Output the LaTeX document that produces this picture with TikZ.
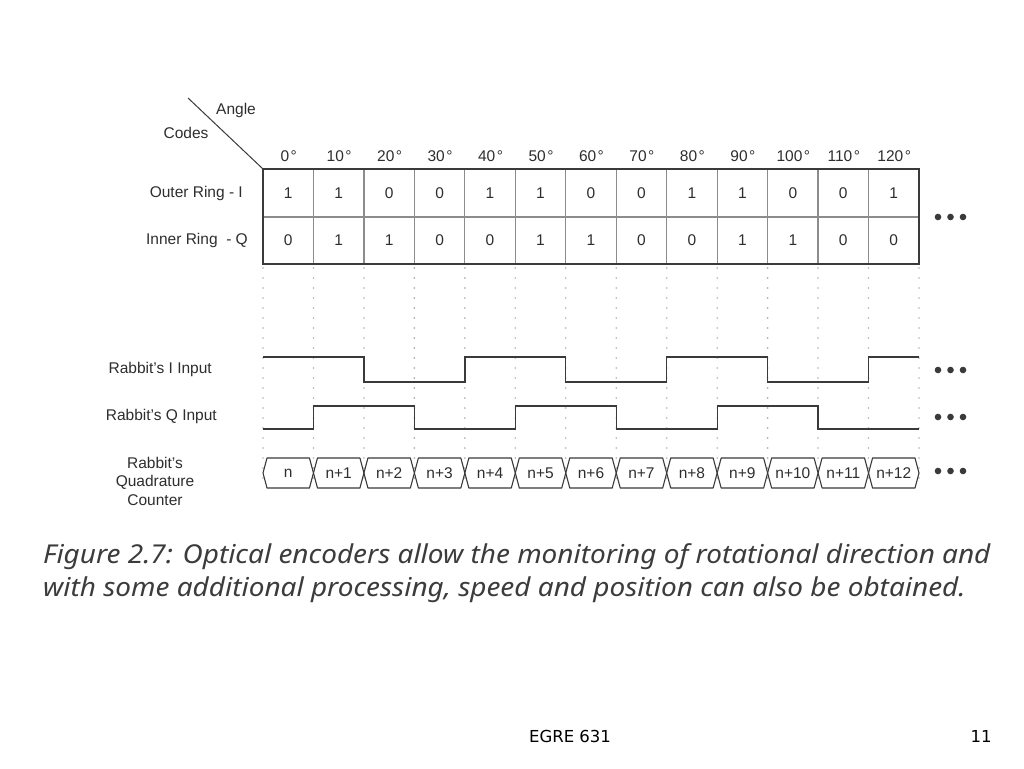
\documentclass[tikz,border=0pt]{standalone}
\usepackage{graphicx}
\usepackage{fontspec}
\setmainfont{Liberation Sans}
\newfontfamily\capfont{Noto Sans}
\newfontfamily\footfont{DejaVu Sans}
\usepackage{xcolor}
\definecolor{encline}{HTML}{3A3A3A}
\definecolor{encgrid}{HTML}{8C8C8C}
\definecolor{encdot}{HTML}{B0B0B0}
\definecolor{enctext}{HTML}{2E2E2E}
\definecolor{capgray}{HTML}{3C3C3C}

\begin{document}
\begin{tikzpicture}[x=1pt,y=-1pt,
  lbl/.style={text=enctext,font=\fontsize{15.5}{18.5}\selectfont,inner sep=0pt},
  caption/.style={anchor=base west,inner sep=0pt,text=capgray,font=\capfont\itshape\fontsize{26}{30}\selectfont},
  wave/.style={encline,line width=1.3pt},
  bus/.style={encline,line width=1.1pt,line join=round},
  guide/.style={encdot,line width=1.8pt,dash pattern=on 0pt off 10pt,line cap=round}]
  \useasboundingbox[fill=white] (0,0) rectangle (1024,768);
  \coordinate (tl) at (263,169);
  \coordinate (corner) at (188,98);
  \draw[encline,line width=1pt] (corner) -- (tl);
  \node[lbl] (angle) at (236,110) {Angle};
  \node[lbl] (codes) at (186,133) {Codes};
  \node[lbl,anchor=east] (outer) at (243,193) {Outer Ring - I};
  \node[lbl,anchor=east] (inner) at (248,240) {Inner Ring \ - Q};
  \node[lbl,anchor=east] (iin) at (212,369) {Rabbit's I Input};
  \node[lbl,anchor=east] (qin) at (217,416) {Rabbit's Q Input};
  \node[lbl,align=center] (counter) at (155,481) {Rabbit's\\Quadrature\\Counter};
  \foreach \i in {0,...,13}
    \draw[guide] (263+\i*50.4615,268) -- (263+\i*50.4615,488);
  \foreach \i in {1,...,12}
    \draw[encgrid,line width=1.2pt] (263+\i*50.4615,169) -- (263+\i*50.4615,264);
  \draw[encgrid,line width=1.2pt] (263,217) -- (919,217);
  \draw[encline,line width=1.3pt] (tl) rectangle (919,264);
  \foreach \a [count=\i from 0] in {0,10,...,120}
    \node[lbl] (deg\i) at (288.7+\i*50.4615,156) {\a\kern1.5pt°};
  \foreach \b [count=\i from 0] in {1,1,0,0,1,1,0,0,1,1,0,0,1}
    \node[lbl] (ri\i) at (288.2+\i*50.4615,193) {\b};
  \foreach \b [count=\i from 0] in {0,1,1,0,0,1,1,0,0,1,1,0,0}
    \node[lbl] (rq\i) at (288.2+\i*50.4615,240) {\b};
  \draw[wave] (263,357) -| (363.92,382) -| (464.85,357) -| (565.77,382) -| (666.69,357)
    -| (767.62,382) -| (868.54,357) -- (919,357);
  \draw[wave] (263,429) -| (313.46,406) -| (414.38,429) -| (515.31,406) -| (616.23,429)
    -| (717.15,406) -| (818.08,429) -- (919,429);
  \foreach \t [count=\i from 0] in {n,n+1,n+2,n+3,n+4,n+5,n+6,n+7,n+8,n+9,n+10,n+11,n+12} {
    \pgfmathsetmacro\xl{263+\i*50.4615}
    \pgfmathsetmacro\xr{\xl+50.4615}
    \draw[bus] (\xl+4,458) -- (\xr-4,458) -- (\xr,473) -- (\xr-4,488) -- (\xl+4,488) -- (\xl,473) -- cycle;
    \node[lbl] (cnt\i) at (\xl+25.23,473) {\t};
  }
  \foreach \y in {217,370,417,471}
    \foreach \dx in {0,12.5,25}
      \fill[encline] (938+\dx,\y) circle[radius=3.3];
  \node[caption] (cap1) at (43,563)
    {\scalebox{1.075}[1]{Figure 2.7: Optical encoders allow the monitoring of rotational direction and}};
  \node[caption] (cap2) at (43,596)
    {\scalebox{1.075}[1]{with some additional processing, speed and position can also be obtained.}};
  \node[anchor=base,inner sep=0pt,font=\footfont\fontsize{16.5}{18}\selectfont] (foot) at (570,742) {EGRE 631};
  \node[anchor=base,inner sep=0pt,font=\footfont\fontsize{16.5}{18}\selectfont] (page) at (981,742) {11};
\end{tikzpicture}
\end{document}
